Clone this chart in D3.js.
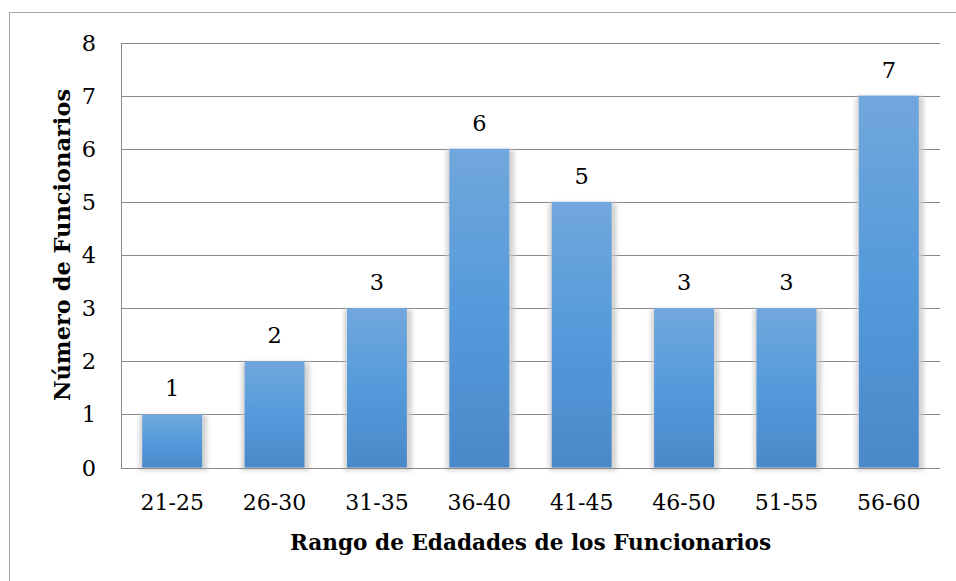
<!DOCTYPE html>
<html><head><meta charset="utf-8">
<script src="https://cdn.jsdelivr.net/npm/d3@7"></script>
<style>body{margin:0;background:#fff}svg{display:block}</style>
</head><body>
<svg id="c" width="956" height="581"></svg>
<script>
const categories = ["21-25","26-30","31-35","36-40","41-45","46-50","51-55","56-60"];
const values = [1,2,3,6,5,3,3,7];
const yTicks = [0,1,2,3,4,5,6,7,8];
const xTitle = "Rango de Edadades de los Funcionarios";
const yTitle = "Número de Funcionarios";

const svg = d3.select("#c");
const font = "'DejaVu Serif', serif";
const m = {l:121, r:940, t:42.5, b:467.5};

svg.append("rect").attr("x",9.5).attr("y",12.5).attr("width",1000).attr("height",1000)
  .attr("fill","#fff").attr("stroke","#a6a6a6").attr("stroke-width",1);

const defs = svg.append("defs");
const g = defs.append("linearGradient").attr("id","bg").attr("x1",0).attr("y1",0).attr("x2",0).attr("y2",1);
g.append("stop").attr("offset","0%").attr("stop-color","#71a7dc");
g.append("stop").attr("offset","50%").attr("stop-color","#559adb");
g.append("stop").attr("offset","100%").attr("stop-color","#4a89c9");
const f = defs.append("filter").attr("id","sh").attr("x","-50%").attr("y","-50%").attr("width","200%").attr("height","200%");
f.append("feGaussianBlur").attr("stdDeviation",2);

const x = d3.scaleBand().domain(categories).range([m.l, m.r]).paddingInner(0.415).paddingOuter(0.2075);
const y = d3.scaleLinear().domain([0,8]).range([m.b, m.t]);

svg.append("g").selectAll("line").data(yTicks).join("line")
  .attr("x1",m.l).attr("x2",m.r)
  .attr("y1",d=>Math.round(y(d))+0.5).attr("y2",d=>Math.round(y(d))+0.5)
  .attr("stroke","#888").attr("stroke-width",1);
svg.append("line").attr("x1",m.l+0.5).attr("x2",m.l+0.5).attr("y1",Math.round(m.t)+0.5).attr("y2",Math.round(m.b)+0.5)
  .attr("stroke","#888");

svg.append("g").selectAll("rect").data(values).join("rect")
  .attr("x",(d,i)=>x(categories[i])-3)
  .attr("y",d=>y(d)+1)
  .attr("width",x.bandwidth()+8)
  .attr("height",d=>m.b-y(d)+2)
  .attr("fill","#c8c8c8").attr("opacity",0.8).attr("filter","url(#sh)");

svg.append("g").selectAll("rect").data(values).join("rect")
  .attr("x",(d,i)=>x(categories[i]))
  .attr("y",d=>y(d))
  .attr("width",x.bandwidth())
  .attr("height",d=>m.b-y(d))
  .attr("fill","url(#bg)");

svg.append("line").attr("x1",m.l).attr("x2",m.r).attr("y1",Math.round(m.b)+0.5).attr("y2",Math.round(m.b)+0.5)
  .attr("stroke","#888");

svg.append("g").selectAll("text").data(values).join("text")
  .attr("x",(d,i)=>x(categories[i])+x.bandwidth()/2)
  .attr("y",d=>y(d)-18)
  .attr("text-anchor","middle").attr("font-family",font).attr("font-size",22.5).attr("fill","#000")
  .text(d=>d);

svg.append("g").selectAll("text").data(yTicks).join("text")
  .attr("x",96).attr("y",d=>y(d)+8)
  .attr("text-anchor","end").attr("font-family",font).attr("font-size",22.5)
  .text(d=>d);

svg.append("g").selectAll("text").data(categories).join("text")
  .attr("x",d=>x(d)+x.bandwidth()/2).attr("y",510)
  .attr("text-anchor","middle").attr("font-family",font).attr("font-size",22)
  .text(d=>d);

svg.append("text").attr("x",(m.l+m.r)/2).attr("y",550).attr("text-anchor","middle")
  .attr("font-family",font).attr("font-weight","bold").attr("font-size",21.6).text(xTitle);
svg.append("text").attr("transform",`translate(70,245) rotate(-90)`).attr("text-anchor","middle")
  .attr("font-family",font).attr("font-weight","bold").attr("font-size",22.5).text(yTitle);
</script>
</body></html>
